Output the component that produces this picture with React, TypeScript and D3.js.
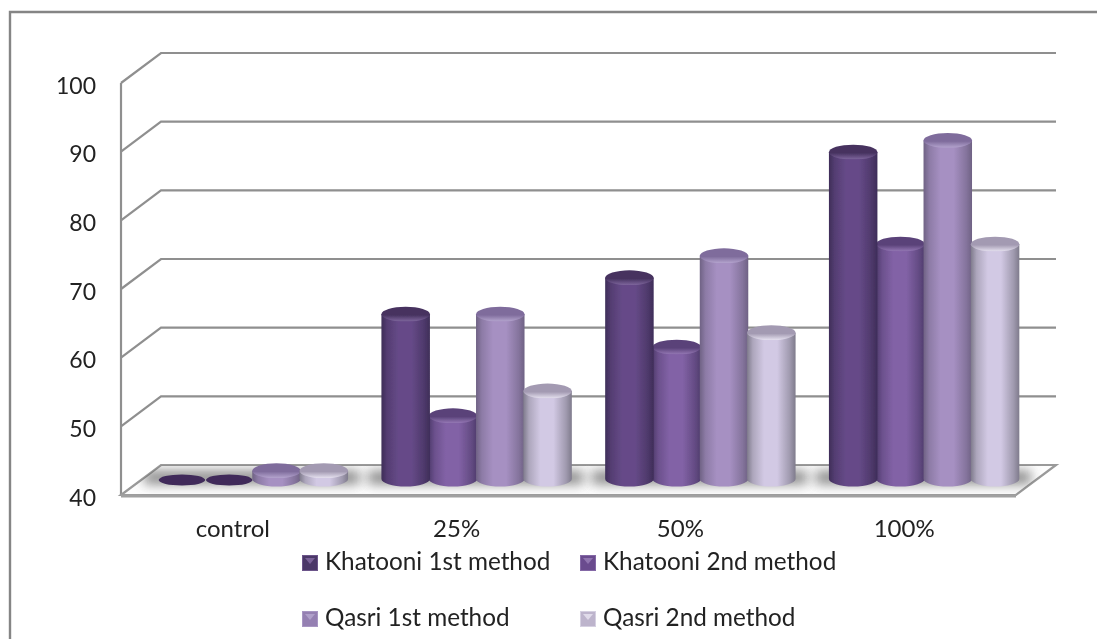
import React from "react";
import * as d3 from "d3";

const categories = ["control", "25%", "50%", "100%"];
const seriesNames = ["Khatooni 1st method", "Khatooni 2nd method", "Qasri 1st method", "Qasri 2nd method"];
const khatooni1 = [40, 64, 69.3, 87.6];
const khatooni2 = [40, 49.2, 59.2, 74.2];
const qasri1 = [41.2, 64, 72.5, 89.3];
const qasri2 = [41.2, 52.8, 61.3, 74.2];
const seriesValues = [khatooni1, khatooni2, qasri1, qasri2];
const yTicks = [40, 50, 60, 70, 80, 90, 100];
const drawOrder = [1, 0, 2, 3];

const edge = ["#3e2d58", "#4f3b6c", "#6f6284", "#7f7b8c"];
const mid = ["#664a88", "#8262a6", "#a690c2", "#d2c9e4"];
const capDark = ["#46325f", "#5a4279", "#7f6c9c", "#a39ab2"];
const capLight = ["#7a6298", "#9074b0", "#b0a0ca", "#e0dbea"];
const swatchFill = ["#4c3768", "#6a4c8e", "#9580b2", "#bdb4cc"];
const dark0 = "#3f2c5a";

const dx = 40, dy = -30;
const W = 1097, H = 639;
const y = d3.scaleLinear().domain([40, 100]).range([495, 83]);
const band = d3.scaleBand<string>().domain(categories).range([121, 1016]);
const barStep = 47.3, barW = 48.5, ry = 7.5;

export default function App() {
  const backY = (v: number) => y(v) + dy;
  const barBaseY = y(40) - 16;
  const gy = (v: number) => barBaseY - (y(40) - y(v));
  return (
    <svg width={W} height={H} style={{ position: "absolute", left: 0, top: 0, fontFamily: "Lato, 'Open Sans', sans-serif" }}>
      <defs>
        <filter id="sh" x="-30%" y="-200%" width="160%" height="500%"><feGaussianBlur stdDeviation="6" /></filter>
        <filter id="soft" x="0" y="0" width="100%" height="100%" filterUnits="userSpaceOnUse" primitiveUnits="userSpaceOnUse"><feGaussianBlur stdDeviation="0.45" /></filter>
        <filter id="capSoft" x="-10%" y="-50%" width="120%" height="200%"><feGaussianBlur stdDeviation="0.8" /></filter>
        {seriesNames.map((_, i) => (
          <g key={i}>
            <linearGradient id={`b${i}`} x1="0" x2="1" y1="0" y2="0">
              <stop offset="0" stopColor={edge[i]} />
              <stop offset="0.12" stopColor={d3.interpolateRgb(edge[i], mid[i])(0.55)} />
              <stop offset="0.35" stopColor={mid[i]} />
              <stop offset="0.62" stopColor={mid[i]} />
              <stop offset="0.88" stopColor={d3.interpolateRgb(mid[i], edge[i])(0.6)} />
              <stop offset="1" stopColor={edge[i]} />
            </linearGradient>
            <linearGradient id={`c${i}`} x1="0" x2="0" y1="0" y2="1">
              <stop offset="0" stopColor={capDark[i]} />
              <stop offset="0.55" stopColor={capDark[i]} />
              <stop offset="0.95" stopColor={capLight[i]} />
              <stop offset="1" stopColor={mid[i]} />
            </linearGradient>
          </g>
        ))}
        <clipPath id="floorClip"><path d="M121,495 L161,465 H1056 L1016,495 Z" /></clipPath>
      </defs>
      <rect x={0} y={0} width={W} height={H} fill="#fff" />
      <g filter="url(#soft)">
        <path d={`M1097,12 H10 V639`} fill="none" stroke="#858585" strokeWidth={2.4} />
        {yTicks.filter((t) => t > 40).map((t) => (
          <path key={t} d={`M${121},${y(t)} L${121 + dx},${backY(t)} H${1016 + dx}`} fill="none" stroke="#8f8f8f" strokeWidth={2.2} />
        ))}
        <line x1={121} x2={121} y1={y(100)} y2={y(40)} stroke="#8f8f8f" strokeWidth={2.2} />
        <path d={`M121,495 L161,465 H1056 L1016,495 Z`} fill="#fdfdfd" stroke="#9a9a9a" strokeWidth={2.2} />
        <line x1={121} x2={1016} y1={496} y2={496} stroke="#a0a0a0" strokeWidth={3} />
        <g clipPath="url(#floorClip)">
          {categories.map((c) => {
            const x0 = (band(c) as number) + dx / 2 + band.bandwidth() / 2 - barStep * 2;
            return <rect key={c} x={x0 - 14} width={barStep * 4 + 26} y={471} height={13} fill="#555" opacity={0.7} filter="url(#sh)" />;
          })}
        </g>
        {categories.map((c, ci) => {
          const gc = (band(c) as number) + band.bandwidth() / 2 + dx / 2;
          return (
            <g key={c}>
              {drawOrder.map((si) => {
                const v = seriesValues[si][ci];
                const cx = gc + (si - 1.5) * barStep;
                const rx = barW / 2;
                const top = gy(v);
                if (v <= 40) {
                  return <ellipse key={si} cx={cx} cy={barBaseY + 1} rx={rx - 1} ry={5.5} fill={dark0} />;
                }
                return (
                  <g key={si}>
                    <path
                      d={`M${cx - rx},${top} V${barBaseY} A${rx},${ry} 0 0 0 ${cx + rx},${barBaseY} V${top} Z`}
                      fill={`url(#b${si})`}
                    />
                    <ellipse cx={cx} cy={top} rx={rx} ry={ry} fill={`url(#c${si})`} />
                  </g>
                );
              })}
            </g>
          );
        })}
        {yTicks.map((t) => (
          <text key={t} x={96} y={y(t) + 1.5} textAnchor="end" dominantBaseline="central" fontSize={23} fill="#222">{t}</text>
        ))}
        {categories.map((c) => (
          <text key={c} x={(band(c) as number) + band.bandwidth() / 2} y={537} textAnchor="middle" fontSize={24} fill="#222">{c}</text>
        ))}
        {seriesNames.map((n, i) => {
          const lx = i % 2 === 0 ? 302 : 580;
          const ly = i < 2 ? 555 : 611;
          return (
            <g key={n}>
              <rect x={lx} y={ly} width={16} height={16} fill={swatchFill[i]} />
              <rect x={lx + 0.5} y={ly + 0.5} width={15} height={15} fill="none" stroke={capLight[i]} strokeWidth={1} opacity={0.7} />
              <path d={`M${lx + 3},${ly + 3} H${lx + 13} L${lx + 8},${ly + 9} Z`} fill={capLight[i]} />
              <text x={lx + 23} y={ly + 15} fontSize={24.3} fill="#222">{n}</text>
            </g>
          );
        })}
      </g>
    </svg>
  );
}
